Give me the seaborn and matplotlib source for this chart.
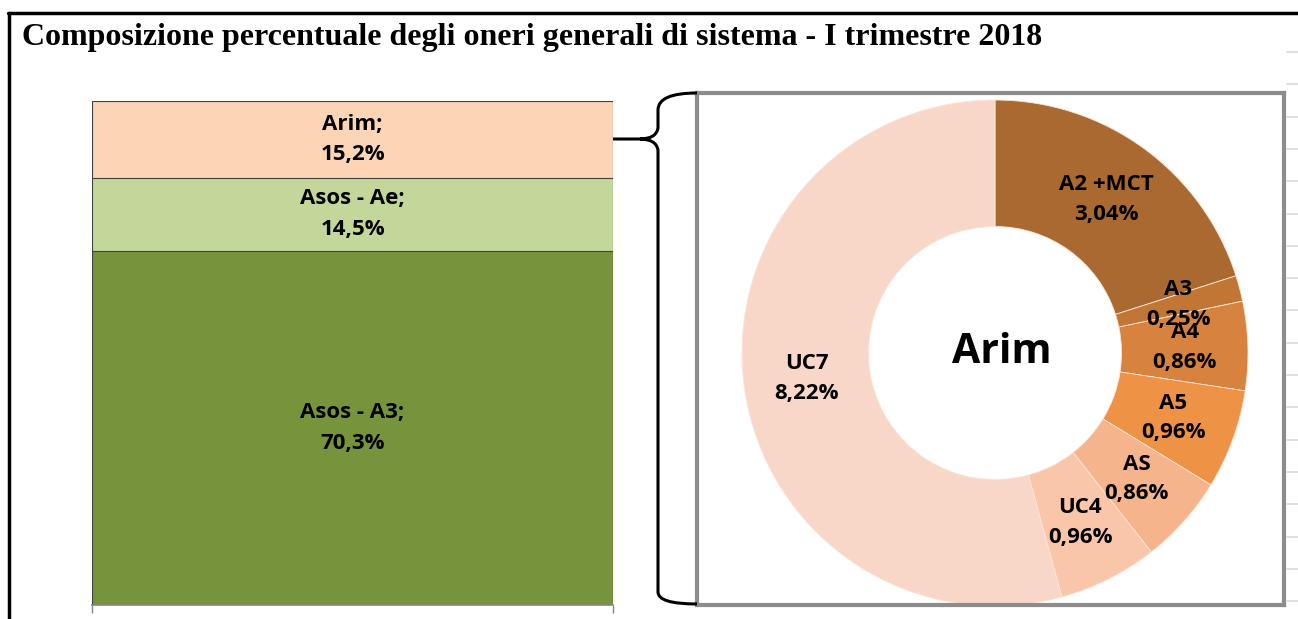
import numpy as np
import matplotlib
matplotlib.use("Agg")
import matplotlib.pyplot as plt
from matplotlib.path import Path
from matplotlib.patches import PathPatch
import seaborn as sns

# ---- data ----
bar_names = ["Asos - A3", "Asos - Ae", "Arim"]
bar_values = [70.3, 14.5, 15.2]
bar_colors = ["#77933C", "#C4D79B", "#FBD5B5"]

pie_names = ["A2 +MCT", "A3", "A4", "A5", "AS", "UC4", "UC7"]
pie_values = [3.04, 0.25, 0.86, 0.96, 0.86, 0.96, 8.22]
pie_colors = ["#AA6930", "#C27636", "#D8823F", "#EE9246", "#F6B48D", "#F9C6A9", "#F9D7C8"]

title = "Composizione percentuale degli oneri generali di sistema - I trimestre 2018"
center_label = "Arim"

W, H = 1298, 619
sns.set_style("white")
plt.rcParams["font.family"] = ["Open Sans", "DejaVu Sans"]
plt.rcParams["text.color"] = "black"

fig = plt.figure(figsize=(W / 100, H / 100), dpi=100)

def fx(x):
    return x / W

def fy(y):
    return 1 - y / H

LBL = 16

# ---- left stacked bar ----
ax1 = fig.add_axes([fx(92), fy(605), fx(613) - fx(92), fy(101) - fy(605)])
cum = np.cumsum(bar_values)
for i in range(len(bar_values) - 1, -1, -1):
    sns.barplot(x=[""], y=[cum[i]], color=bar_colors[i], width=1, saturation=1,
                edgecolor="#404040", linewidth=0.8, ax=ax1)
ax1.set_xlim(-0.5, 0.5)
ax1.set_ylim(0, 100)
ax1.set_yticks([])
ax1.set_xticks([-0.5, 0.5])
ax1.set_xticklabels([])
ax1.tick_params(axis="x", direction="out", length=6, color="#868686", width=1, bottom=True)
ax1.set_xlabel("")
ax1.set_ylabel("")
for s in ["left", "right", "top"]:
    ax1.spines[s].set_visible(False)
ax1.spines["bottom"].set_color("#868686")
ax1.spines["bottom"].set_linewidth(1.2)
ax1.patch.set_alpha(0)
start = 0
for name, v in zip(bar_names, bar_values):
    ax1.text(0, start + v / 2, f"{name};\n{v:.1f}%".replace(".", ","), ha="center", va="center",
             fontsize=LBL, fontweight="bold", linespacing=1.6)
    start += v

# ---- donut ----
R = 253.0
cx, cy = 995, 353
ax2 = fig.add_axes([fx(697), fy(605), fx(1284) - fx(697), fy(93) - fy(605)])
wedges, _ = ax2.pie(pie_values, colors=pie_colors, startangle=90, counterclock=False, radius=1,
                    wedgeprops=dict(width=0.5, edgecolor="#FCE4D6", linewidth=0.6))
ax2.set_aspect("auto")
ax2.set_xlim((697 - cx) / R, (1284 - cx) / R)
ax2.set_ylim((cy - 605) / R, (cy - 93) / R)
ax2.set_frame_on(True)
for s in ax2.spines.values():
    s.set_visible(True)
    s.set_color("#8C8C8C")
    s.set_linewidth(3)
for w, name, v in zip(wedges, pie_names, pie_values):
    th = np.deg2rad((w.theta1 + w.theta2) / 2)
    ax2.text(0.75 * np.cos(th), 0.75 * np.sin(th), f"{name}\n{v:.2f}%".replace(".", ","),
             ha="center", va="center", fontsize=LBL, fontweight="bold", linespacing=1.55)
ax2.text(0.028, 0, center_label, ha="center", va="center", fontsize=29.5, fontweight="bold")

# ---- brace ----
verts = [(613, 139), (640, 139),
         (656, 139), (658, 128),
         (658, 110),
         (658, 93), (697, 93),
         (640, 139), (656, 139), (658, 150),
         (658, 592),
         (658, 604), (697, 604)]
codes = [Path.MOVETO, Path.LINETO,
         Path.CURVE3, Path.CURVE3,
         Path.LINETO,
         Path.CURVE3, Path.CURVE3,
         Path.MOVETO, Path.CURVE3, Path.CURVE3,
         Path.LINETO,
         Path.CURVE3, Path.CURVE3]
verts = [(fx(x), fy(y)) for x, y in verts]
fig.add_artist(PathPatch(Path(verts, codes), transform=fig.transFigure, fill=False,
                         edgecolor="black", linewidth=2.2))

# ---- frame and title ----
fig.add_artist(plt.Line2D([fx(9), fx(9)], [fy(13), 0], color="black", linewidth=2.5))
fig.add_artist(plt.Line2D([fx(8), 1], [fy(13), fy(13)], color="black", linewidth=2.5))
for yy in np.arange(52, 610, 32.3):
    fig.add_artist(plt.Line2D([fx(1287), 1], [fy(yy), fy(yy)], color="#D9D9D9", linewidth=1.2))
fig.text(fx(22), fy(45), title, ha="left", va="baseline", fontsize=23, fontweight="bold",
         family=["Liberation Serif", "DejaVu Serif"])

fig.savefig("out.png", dpi=100)
